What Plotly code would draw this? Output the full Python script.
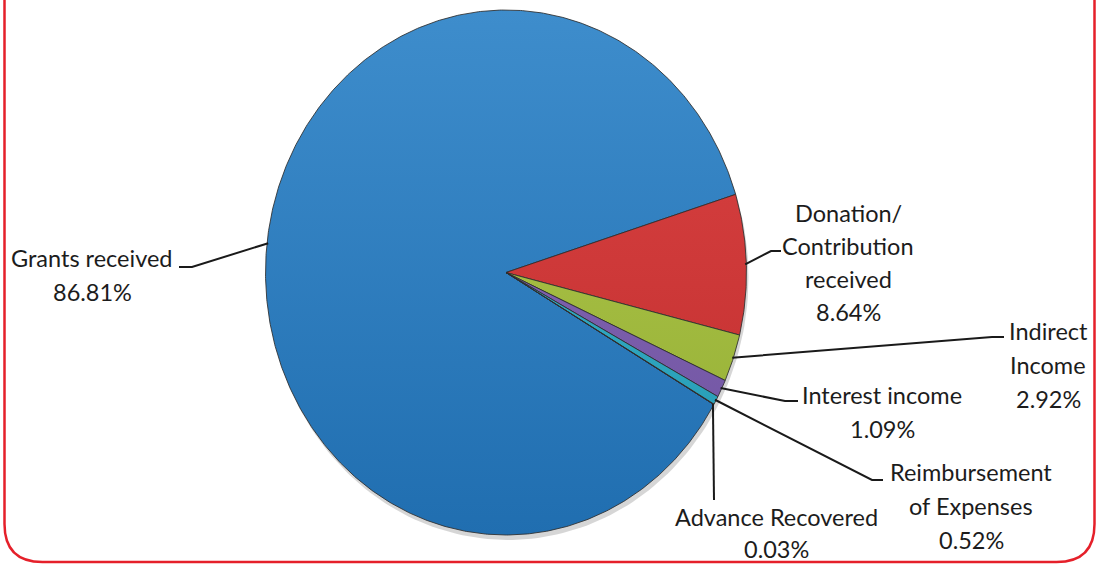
import numpy as np
import plotly.graph_objects as go

# ---------------- data ----------------
categories = ["Grants received", "Donation/ Contribution received", "Indirect Income",
              "Interest income", "Reimbursement of Expenses", "Advance Recovered"]
values = [86.81, 8.64, 2.92, 1.09, 0.52, 0.03]

# how each category name is broken into lines on the chart
name_lines = [["Grants received"],
              ["Donation/", "Contribution", "received"],
              ["Indirect", "Income"],
              ["Interest income"],
              ["Reimbursement", "of Expenses"],
              ["Advance Recovered"]]

# ---------------- styling / layout ----------------
W, H = 1096, 564
CX, CY, RX, RY = 506.0, 272.5, 240.5, 262.5      # ellipse of the pie (px)
START_DEG = -30.2                                 # where first slice begins (math deg), runs clockwise
top_colors = ["#3E8DCC", "#DB4343", "#B3CB4F", "#8B6DB9", "#40B9D0", "#F79646"]
bot_colors = ["#206EB0", "#C02E2E", "#93AD33", "#6E52A0", "#2399B2", "#E07B2A"]
FONT = dict(family="Lato, 'Open Sans', sans-serif", size=23.5, color="#1c1c1c")
LINE_H = 34.0
# label block: centre x, centre y of first line, line spacing
label_pos = [(92, 258, 34), (848, 213, 33), (1048, 331, 34),
             (882, 395, 34), (971, 472, 34), (776, 517, 32)]
# leader line: elbow point, end point
leader_pts = [((192, 267), (179, 267)),
              ((771, 251), (781, 251)),
              ((992, 337), (1004, 337)),
              ((785, 401), (798, 401)),
              ((872, 480), (883, 480)),
              ((714, 500), (714, 500))]


def ell(theta_deg, r=1.0):
    t = np.radians(theta_deg)
    return CX + RX * r * np.cos(t), CY - RY * r * np.sin(t)


fig = go.Figure()

# soft shadow under the pie
tt = np.linspace(0, 360, 240)
sx, sy = ell(tt)
fig.add_trace(go.Scatter(x=sx + 2, y=sy + 5, mode="lines", fill="toself",
                         fillcolor="rgba(0,0,0,0.16)", line=dict(width=0),
                         hoverinfo="skip", showlegend=False))

total = sum(values)
angle = START_DEG
mids = []
for i, (cat, v) in enumerate(zip(categories, values)):
    span = 360.0 * v / total
    a0, a1 = angle, angle - span
    n = max(3, int(span * 2))
    th = np.linspace(a0, a1, n)
    px, py = ell(th)
    xs = np.concatenate([[CX], px, [CX]])
    ys = np.concatenate([[CY], py, [CY]])
    fig.add_trace(go.Scatter(
        x=xs, y=ys, mode="lines", fill="toself",
        fillcolor=top_colors[i],
        fillgradient=dict(type="vertical",
                          colorscale=[[0, top_colors[i]], [1, bot_colors[i]]],
                          start=CY - RY, stop=CY + RY),
        line=dict(color="rgba(45,45,45,0.85)", width=1),
        name=cat, hovertemplate=f"{cat}: {v:.2f}%<extra></extra>", showlegend=False))
    mids.append((a0 + a1) / 2.0)
    angle = a1

annotations = []
for i, (cat, v) in enumerate(zip(categories, values)):
    # leader line from slice edge at mid angle
    ex, ey = ell(mids[i], 0.995)
    (bx, by), (tx, ty) = leader_pts[i]
    fig.add_trace(go.Scatter(x=[ex, bx, tx], y=[ey, by, ty], mode="lines",
                             line=dict(color="#1a1a1a", width=2),
                             hoverinfo="skip", showlegend=False))
    lines = name_lines[i] + [f"{v:.2f}%"]
    lx, ly, lh = label_pos[i]
    for k, txt in enumerate(lines):
        annotations.append(dict(x=lx, y=ly + k * lh, xref="x", yref="y",
                                text=txt, showarrow=False, xanchor="center",
                                yanchor="middle", font=FONT))

# red rounded frame (top edge runs off the picture)
frame = ("M 4.5,-20 L 4.5,524 Q 4.5,562 42.5,562 L 1056.5,562 "
         "Q 1094.5,562 1094.5,524 L 1094.5,-20")

fig.update_layout(
    width=W, height=H,
    margin=dict(l=0, r=0, t=0, b=0),
    paper_bgcolor="white", plot_bgcolor="white",
    xaxis=dict(range=[0, W], visible=False, fixedrange=True),
    yaxis=dict(range=[H, 0], visible=False, fixedrange=True),
    annotations=annotations,
    shapes=[dict(type="path", path=frame, xref="x", yref="y",
                 line=dict(color="#E5202A", width=2.5), layer="above")],
)

fig.write_html("out.html", config={"displayModeBar": False},
               post_script="document.body.style.margin='0';"
                           "document.body.style.overflow='hidden';")
